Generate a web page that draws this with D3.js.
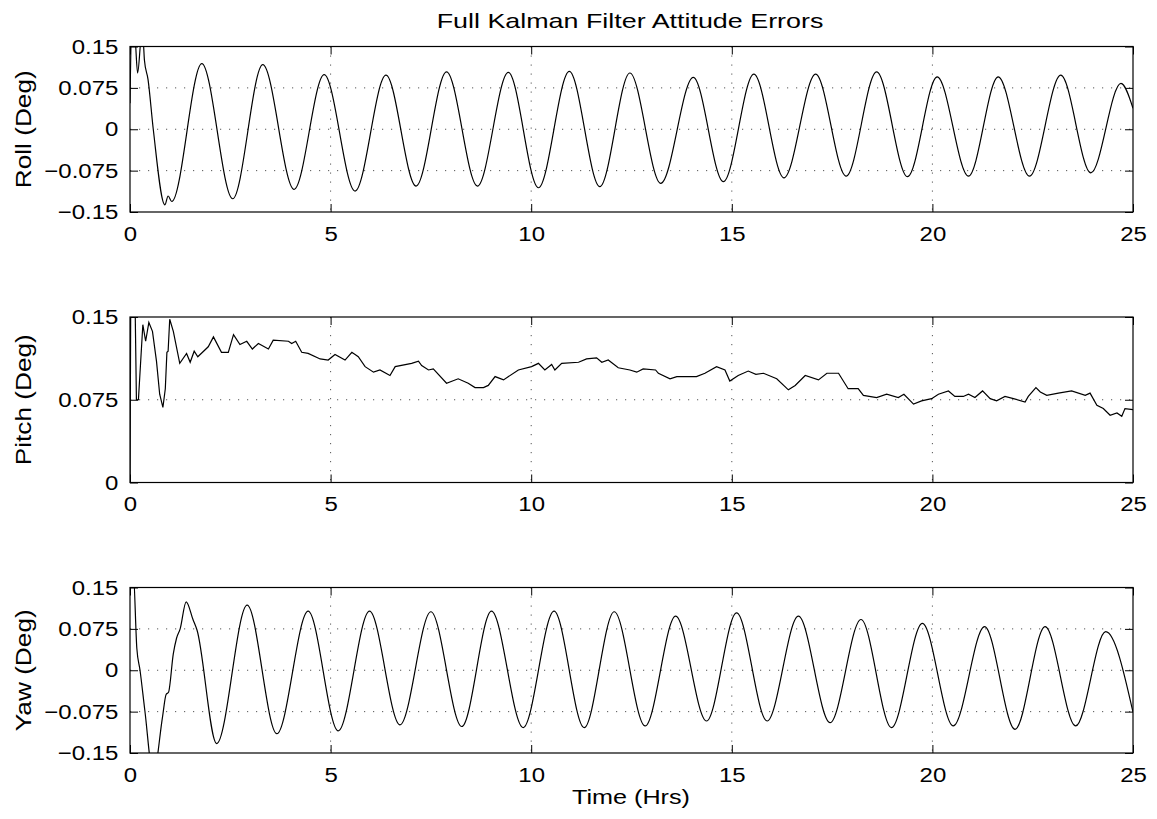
<!DOCTYPE html>
<html>
<head>
<meta charset="utf-8" />
<title>Full Kalman Filter Attitude Errors</title>
<script src="https://cdnjs.cloudflare.com/ajax/libs/d3/7.8.5/d3.min.js"></script>
<style>
body { margin: 0; padding: 0; background: #fff; }
svg text { font-family: "Liberation Sans", Arial, Helvetica, sans-serif; fill: #000; }
.tick line { stroke: #000; }
</style>
</head>
<body>
<svg id="chart" width="1157" height="819"></svg>
<script>
// ---- data ----
var xTicks = [0, 5, 10, 15, 20, 25];
var attTicks = [-0.15, -0.075, 0, 0.075, 0.15];
var pitchTicks = [0, 0.075, 0.15];

var rollHrs = [0, 0.04, 0.12, 0.19, 0.29, 0.33, 0.36, 0.45, 0.58, 0.87, 0.95, 1.04, 1.79, 2.56, 3.31, 4.09, 4.84,
  5.61, 6.38, 7.13, 7.89, 8.66, 9.43, 10.18, 10.95, 11.71, 12.46, 13.23, 14.04, 14.79, 15.55, 16.30, 17.09,
  17.85, 18.61, 19.38, 20.12, 20.90, 21.64, 22.42, 23.20, 23.95, 24.70, 25.0];
var rollDeg = [0.047, 0.18, 0.17, 0.102, 0.17, 0.16, 0.125, 0.090, 0.0, -0.137, -0.121, -0.131, 0.119, -0.126, 0.117, -0.109, 0.099,
  -0.112, 0.098, -0.103, 0.104, -0.103, 0.103, -0.106, 0.105, -0.104, 0.102, -0.098, 0.094, -0.095, 0.100, -0.088, 0.100,
  -0.085, 0.104, -0.086, 0.095, -0.085, 0.095, -0.085, 0.098, -0.079, 0.083, 0.038];

var pitchHrs = [0, 0.02, 0.12, 0.16, 0.21, 0.32, 0.39, 0.47, 0.56, 0.66, 0.74, 0.82, 0.88, 0.92, 0.95, 0.99, 1.08, 1.24,
  1.41, 1.50, 1.60, 1.69, 1.95, 2.08, 2.28, 2.45, 2.58, 2.74, 2.91, 3.05, 3.20, 3.45, 3.57, 3.95, 4.03, 4.13, 4.28,
  4.44, 4.74, 4.94, 5.11, 5.36, 5.53, 5.69, 5.86, 6.07, 6.23, 6.48, 6.61, 7.02, 7.19, 7.27, 7.44, 7.56, 7.89, 8.18,
  8.43, 8.60, 8.81, 8.93, 9.10, 9.31, 9.68, 10.01, 10.18, 10.34, 10.51, 10.59, 10.76, 11.18, 11.38, 11.63, 11.76,
  11.92, 12.17, 12.46, 12.63, 12.79, 13.10, 13.17, 13.46, 13.63, 14.12, 14.33, 14.62, 14.83, 14.95, 15.16, 15.41,
  15.60, 15.79, 16.12, 16.41, 16.58, 16.83, 17.16, 17.37, 17.66, 17.90, 18.15, 18.28, 18.61, 18.86, 19.15, 19.29,
  19.53, 19.73, 19.98, 20.15, 20.40, 20.56, 20.77, 20.90, 21.06, 21.25, 21.44, 21.60, 21.81, 22.02, 22.31, 22.39,
  22.58, 22.69, 22.85, 23.14, 23.47, 23.81, 23.93, 24.10, 24.26, 24.43, 24.60, 24.72, 24.80, 25.0];
var pitchDeg = [0, 0.18, 0.18, 0.075, 0.075, 0.143, 0.128, 0.145, 0.137, 0.110, 0.080, 0.068, 0.085, 0.118, 0.119, 0.148, 0.137, 0.108,
  0.117, 0.109, 0.119, 0.114, 0.123, 0.132, 0.118, 0.118, 0.134, 0.125, 0.128, 0.121, 0.126, 0.121, 0.129, 0.128, 0.126, 0.128, 0.118,
  0.117, 0.112, 0.111, 0.116, 0.111, 0.118, 0.114, 0.105, 0.100, 0.102, 0.097, 0.105, 0.108, 0.110, 0.106, 0.102, 0.103, 0.090, 0.094,
  0.090, 0.086, 0.086, 0.088, 0.096, 0.093, 0.102, 0.105, 0.108, 0.102, 0.107, 0.102, 0.108, 0.109, 0.112, 0.113, 0.109,
  0.111, 0.104, 0.102, 0.100, 0.103, 0.102, 0.099, 0.094, 0.096, 0.096, 0.099, 0.105, 0.102, 0.092, 0.097, 0.101,
  0.098, 0.099, 0.094, 0.084, 0.088, 0.097, 0.093, 0.099, 0.099, 0.085, 0.085, 0.079, 0.077, 0.080, 0.077, 0.080,
  0.071, 0.074, 0.076, 0.080, 0.083, 0.078, 0.078, 0.080, 0.077, 0.083, 0.076, 0.074, 0.078, 0.076, 0.073, 0.078,
  0.086, 0.082, 0.079, 0.081, 0.083, 0.079, 0.081, 0.070, 0.067, 0.061, 0.063, 0.060, 0.067, 0.066];

var yawHrs = [0, 0.08, 0.17, 0.25, 0.37, 0.58, 0.81, 0.90, 0.96, 1.08, 1.16, 1.25, 1.40, 1.57, 1.67, 2.16, 2.92, 3.66,
  4.44, 5.19, 5.97, 6.73, 7.50, 8.27, 9.01, 9.80, 10.57, 11.32, 12.07, 12.84, 13.60, 14.37, 15.12, 15.88, 16.66,
  17.45, 18.22, 18.98, 19.75, 20.52, 21.30, 22.06, 22.81, 23.57, 24.32, 25.0];
var yawDeg = [0.18, 0.18, 0.040, 0.0, -0.073, -0.19, -0.085, -0.044, -0.040, 0.030, 0.058, 0.075, 0.124, 0.092, 0.073, -0.133, 0.118, -0.115,
  0.107, -0.110, 0.107, -0.099, 0.106, -0.102, 0.107, -0.104, 0.107, -0.104, 0.106, -0.101, 0.098, -0.092, 0.104, -0.092, 0.098,
  -0.095, 0.092, -0.104, 0.085, -0.101, 0.079, -0.107, 0.079, -0.101, 0.070, -0.076];

// ---- layout ----
var left = 130, right = 1133, panelH = 165.5;
var tops = [46.5, 317, 587.5];
var tickStretch = "scale(1.17,1)";

var panels = [
  {label: "Roll (Deg)", hrs: rollHrs, deg: rollDeg, ticks: attTicks, curve: d3.curveMonotoneX},
  {label: "Pitch (Deg)", hrs: pitchHrs, deg: pitchDeg, ticks: pitchTicks, curve: d3.curveLinear},
  {label: "Yaw (Deg)", hrs: yawHrs, deg: yawDeg, ticks: attTicks, curve: d3.curveMonotoneX}
];

var svg = d3.select("#chart");
svg.append("rect").attr("width", 1157).attr("height", 819).attr("fill", "#fff");

var x = d3.scaleLinear().domain([0, 25]).range([left, right]);
var fmt = function(d) { return d === 0 ? "0" : d3.format("")(d); };

panels.forEach(function(p, i) {
  var top = tops[i], bottom = top + panelH;
  var y = d3.scaleLinear().domain(d3.extent(p.ticks)).range([bottom, top]);
  var g = svg.append("g");

  svg.append("clipPath").attr("id", "clip" + i)
    .append("rect").attr("x", left).attr("y", top).attr("width", right - left).attr("height", panelH);

  // dotted grid
  g.selectAll(".vg").data(xTicks.slice(1, -1)).enter().append("line")
    .attr("x1", d => x(d)).attr("x2", d => x(d)).attr("y1", top).attr("y2", bottom)
    .attr("stroke", "#555").attr("stroke-width", 1).attr("stroke-dasharray", "1.2,7.8");
  g.selectAll(".hg").data(p.ticks.slice(1, -1)).enter().append("line")
    .attr("x1", left).attr("x2", right).attr("y1", d => y(d)).attr("y2", d => y(d))
    .attr("stroke", "#555").attr("stroke-width", 1).attr("stroke-dasharray", "1.2,7.8");

  // data
  var line = d3.line().x(d => x(d[0])).y(d => y(d[1])).curve(p.curve);
  g.append("path").datum(d3.zip(p.hrs, p.deg))
    .attr("clip-path", "url(#clip" + i + ")")
    .attr("fill", "none").attr("stroke", "#000").attr("stroke-width", 1.2)
    .attr("d", line);

  // axes, ticks pointing in
  var bx = g.append("g").attr("transform", "translate(0," + bottom + ")")
    .call(d3.axisBottom(x).tickValues(xTicks).tickSize(-8).tickSizeOuter(0).tickPadding(14).tickFormat(d3.format("d")));
  var tx = g.append("g").attr("transform", "translate(0," + top + ")")
    .call(d3.axisTop(x).tickValues(xTicks).tickSize(-8).tickSizeOuter(0).tickFormat(""));
  var ly = g.append("g").attr("transform", "translate(" + left + ",0)")
    .call(d3.axisLeft(y).tickValues(p.ticks).tickSize(-8).tickSizeOuter(0).tickPadding(10).tickFormat(fmt));
  var ry = g.append("g").attr("transform", "translate(" + right + ",0)")
    .call(d3.axisRight(y).tickValues(p.ticks).tickSize(-8).tickSizeOuter(0).tickFormat(""));
  [bx, tx, ly, ry].forEach(function(a) {
    a.select(".domain").remove();
    a.attr("font-family", null).attr("font-size", null);
    a.selectAll("text").style("font-size", "20.5px").attr("transform", tickStretch);
  });

  g.append("rect").attr("x", left).attr("y", top).attr("width", right - left).attr("height", panelH)
    .attr("fill", "none").attr("stroke", "#000").attr("stroke-width", 1.2);

  g.append("text")
    .attr("transform", "translate(23," + (top + panelH / 2) + ") rotate(-90) scale(1.22,1)")
    .attr("text-anchor", "middle").attr("dy", "0.35em")
    .style("font-size", "21.5px").text(p.label);
});

svg.append("text").attr("transform", "translate(630,28) scale(1.28,1)")
  .attr("text-anchor", "middle").style("font-size", "21px")
  .text("Full Kalman Filter Attitude Errors");
svg.append("text").attr("transform", "translate(631,804) scale(1.2,1)")
  .attr("text-anchor", "middle").style("font-size", "21px")
  .text("Time (Hrs)");
</script>
</body>
</html>
